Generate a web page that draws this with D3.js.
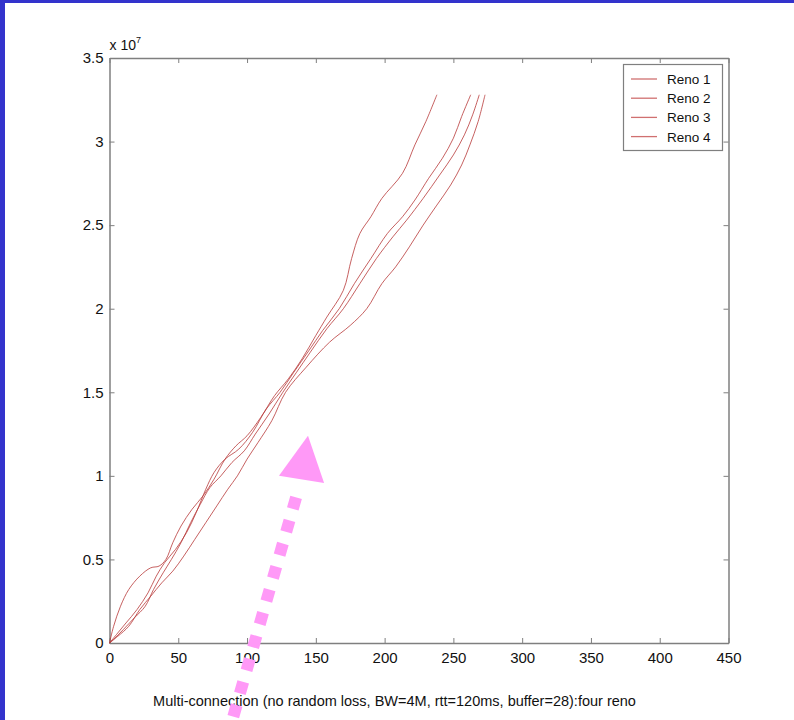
<!DOCTYPE html>
<html>
<head>
<meta charset="utf-8">
<script src="https://cdn.jsdelivr.net/npm/d3@7"></script>
<style>
body { margin: 0; background: #fff; }
svg { display: block; }
</style>
</head>
<body>
<svg width="794" height="720"></svg>
<script>
// values in units of 1e7 bytes, x in seconds
var xTicks = [0, 50, 100, 150, 200, 250, 300, 350, 400, 450];
var yTicks = [0, 0.5, 1, 1.5, 2, 2.5, 3, 3.5];
var names = ["Reno 1", "Reno 2", "Reno 3", "Reno 4"];
var title = "Multi-connection (no random loss, BW=4M, rtt=120ms, buffer=28):four reno";

var reno1 = [[0,0],[3,0.1],[8,0.22],[14,0.32],[22,0.4],[30,0.45],[36,0.46],[41,0.5],[46,0.6],[52,0.7],[60,0.8],[68,0.88],[76,0.98],[84,1.1],[92,1.18],[100,1.24],[110,1.35],[120,1.48],[130,1.58],[140,1.7],[150,1.84],[158,1.95],[170,2.11],[176,2.3],[182,2.45],[190,2.55],[198,2.66],[213,2.81],[222,2.98],[230,3.12],[238,3.28]];
var reno2 = [[0,0],[5,0.05],[12,0.12],[20,0.2],[28,0.3],[34,0.4],[40,0.48],[48,0.56],[56,0.66],[63,0.78],[70,0.92],[76,1.02],[84,1.1],[94,1.16],[104,1.26],[114,1.4],[124,1.5],[134,1.62],[145,1.75],[155,1.87],[167,2.0],[178,2.15],[190,2.3],[202,2.45],[213,2.55],[222,2.65],[232,2.78],[242,2.9],[250,3.02],[256,3.15],[262.6,3.28]];
var reno3 = [[0,0],[4,0.03],[10,0.08],[18,0.15],[26,0.22],[32,0.32],[39,0.42],[45,0.5],[52,0.6],[59,0.72],[66,0.83],[73,0.93],[81,1.0],[89,1.08],[98,1.15],[106,1.25],[116,1.37],[126,1.5],[136,1.62],[146,1.74],[158,1.88],[170,2.0],[182,2.15],[194,2.3],[206,2.43],[216,2.53],[228,2.66],[240,2.8],[250,2.92],[258,3.04],[264,3.16],[268.8,3.28]];
var reno4 = [[0,0],[6,0.04],[14,0.1],[22,0.2],[30,0.28],[38,0.36],[46,0.43],[54,0.52],[62,0.62],[70,0.72],[78,0.82],[86,0.92],[93,1.0],[100,1.1],[108,1.2],[118,1.33],[128,1.5],[143,1.65],[160,1.8],[175,1.9],[187,2.0],[198,2.15],[208,2.25],[218,2.37],[228,2.5],[238,2.62],[248,2.74],[256,2.86],[262,2.98],[268,3.12],[273,3.28]];

// pink annotation arrow, in data coords
var arrowLine = [[90, -0.44], [137, 0.91]];
var arrowHead = [[144.3, 1.24], [123.2, 1.0], [156, 0.957]];

var svg = d3.select("svg");
var font = "'Liberation Sans', Arial, sans-serif";

// slide frame
svg.append("rect").attr("x", 0).attr("y", 0).attr("width", 794).attr("height", 3).attr("fill", "#3333cc");
svg.append("rect").attr("x", 0).attr("y", 0).attr("width", 5).attr("height", 720).attr("fill", "#3333cc");

var x = d3.scaleLinear().domain([0, 450]).range([109.5, 728.5]);
var y = d3.scaleLinear().domain([0, 3.5]).range([643, 58]);

function styleAxis(g) {
  g.selectAll("path.domain").attr("stroke", "#7f7f7f").attr("stroke-width", 1.5);
  g.selectAll(".tick line").attr("stroke", "#7f7f7f").attr("stroke-width", 1);
  g.selectAll("text").attr("fill", "#111").style("font-family", font).style("font-size", "15px");
}

svg.append("g").attr("transform", "translate(0," + y(0) + ")")
  .call(d3.axisBottom(x).tickValues(xTicks).tickSizeInner(-5).tickSizeOuter(0).tickPadding(9))
  .call(styleAxis);
svg.append("g").attr("transform", "translate(0," + y(3.5) + ")")
  .call(d3.axisTop(x).tickValues(xTicks).tickSizeInner(-5).tickSizeOuter(0).tickFormat(""))
  .call(styleAxis);
svg.append("g").attr("transform", "translate(" + x(0) + ",0)")
  .call(d3.axisLeft(y).tickValues(yTicks).tickSizeInner(-5).tickSizeOuter(0).tickPadding(6).tickFormat(function(d) { return d; }))
  .call(styleAxis);
svg.append("g").attr("transform", "translate(" + x(450) + ",0)")
  .call(d3.axisRight(y).tickValues(yTicks).tickSizeInner(-5).tickSizeOuter(0).tickFormat(""))
  .call(styleAxis);

// exponent label
var expo = svg.append("text").attr("x", x(0)).attr("y", 50)
  .style("font-family", font).style("font-size", "14px").attr("fill", "#111")
  .text("x 10");
expo.append("tspan").attr("dy", -7).style("font-size", "9px").text("7");

var line = d3.line()
  .curve(d3.curveCatmullRom)
  .x(function(d) { return x(d[0]); })
  .y(function(d) { return y(d[1]); });

svg.append("g").selectAll("path")
  .data([reno1, reno2, reno3, reno4])
  .enter().append("path")
  .attr("d", line)
  .attr("fill", "none")
  .attr("stroke", "#b83a3a")
  .attr("stroke-opacity", 0.8)
  .attr("stroke-width", 1);

// legend
var leg = svg.append("g");
leg.append("rect").attr("x", 623.5).attr("y", 64.5).attr("width", 99).attr("height", 86)
  .attr("fill", "#fff").attr("stroke", "#7f7f7f").attr("stroke-width", 1.2);
var rows = leg.selectAll("g.row").data(names).enter().append("g")
  .attr("transform", function(d, i) { return "translate(0," + (79 + i * 19.2) + ")"; });
rows.append("line").attr("x1", 631).attr("x2", 657).attr("y1", 0).attr("y2", 0)
  .attr("stroke", "#d07070").attr("stroke-width", 1.3);
rows.append("text").attr("x", 667).attr("y", 5)
  .style("font-family", font).style("font-size", "13.5px").attr("fill", "#111")
  .text(function(d) { return d; });

svg.append("text").attr("x", 394.5).attr("y", 706).attr("text-anchor", "middle")
  .style("font-family", font).style("font-size", "14.5px").attr("fill", "#111")
  .text(title);

// arrow
var arrow = svg.append("g").attr("fill", "#ff99f7").attr("stroke", "#ff99f7");
arrow.append("line")
  .attr("x1", x(arrowLine[0][0])).attr("y1", y(arrowLine[0][1]))
  .attr("x2", x(arrowLine[1][0])).attr("y2", y(arrowLine[1][1]))
  .attr("stroke-width", 12).attr("stroke-dasharray", "12,12");
arrow.append("polygon")
  .attr("stroke", "none")
  .attr("points", arrowHead.map(function(p) { return x(p[0]) + "," + y(p[1]); }).join(" "));
</script>
</body>
</html>
